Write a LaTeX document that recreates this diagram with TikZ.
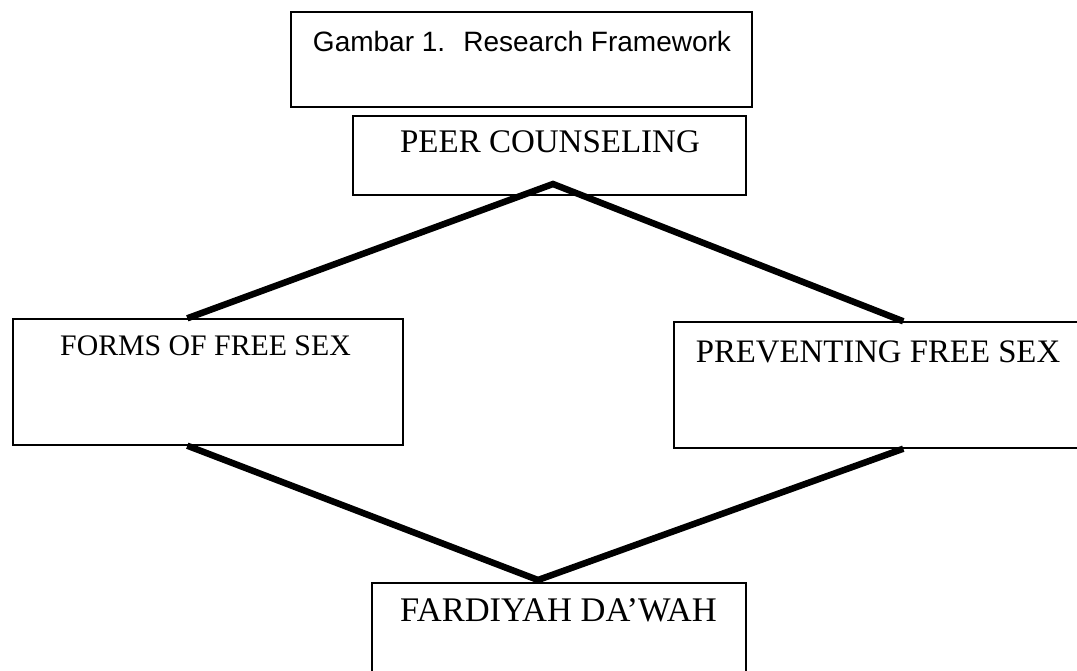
\documentclass[tikz,border=0pt]{standalone}
\usepackage{fontspec}
\setmainfont{Liberation Serif}
\newfontfamily\titlefont{Liberation Sans}
\tikzset{
  box/.style={draw=black, line width=1.4pt, rectangle, inner sep=0pt, fill=none},
  link/.style={line width=6.5pt, line join=miter},
  serif/.style={inner sep=0pt, anchor=base},
}
\begin{document}
\begin{tikzpicture}[x=1pt,y=-1pt]
\useasboundingbox (0,0) rectangle (1077,670);
\clip (0,0) rectangle (1077,670);
\fill[white] (0,0) rectangle (1077,670);
% boxes
\node[box, minimum width=461pt, minimum height=95pt] (titlebox) at (521.5,59.5) {};
\node[box, minimum width=393pt, minimum height=79pt] (peer) at (549.5,155.5) {};
\node[box, minimum width=390pt, minimum height=126pt] (forms) at (208,382) {};
\node[box, minimum width=420pt, minimum height=126pt] (prev) at (884,385) {};
\node[box, minimum width=374pt, minimum height=120pt] (fard) at (559,643) {};
% texts
\node[font=\titlefont\fontsize{28}{30}\selectfont, inner sep=0pt, anchor=base] (ttext) at (522,51) {Gambar 1.~ Research Framework};
\node[serif, font=\fontsize{33}{36}\selectfont] (ptext) at (550,152) {PEER COUNSELING};
\node[serif, font=\fontsize{29.8}{32}\selectfont] (ftext) at (205.5,355) {FORMS OF FREE SEX};
\node[serif, font=\fontsize{32.8}{36}\selectfont] (prtext) at (878,362) {PREVENTING FREE SEX};
\node[serif, font=\fontsize{34.5}{36}\selectfont] (fdtext) at (558.5,621) {FARDIYAH DA’WAH};
% connector points
\coordinate (topapex) at (553,184);
\coordinate (botapex) at (538,580);
\coordinate (formsT) at ([xshift=175pt]forms.north west);
\coordinate (formsB) at ([xshift=175pt]forms.south west);
\coordinate (prevT) at ([xshift=230pt]prev.north west);
\coordinate (prevB) at ([xshift=230pt]prev.south west);
\draw[link] (formsT) -- (topapex) -- (prevT);
\draw[link] (formsB) -- (botapex) -- (prevB);
\end{tikzpicture}
\end{document}
